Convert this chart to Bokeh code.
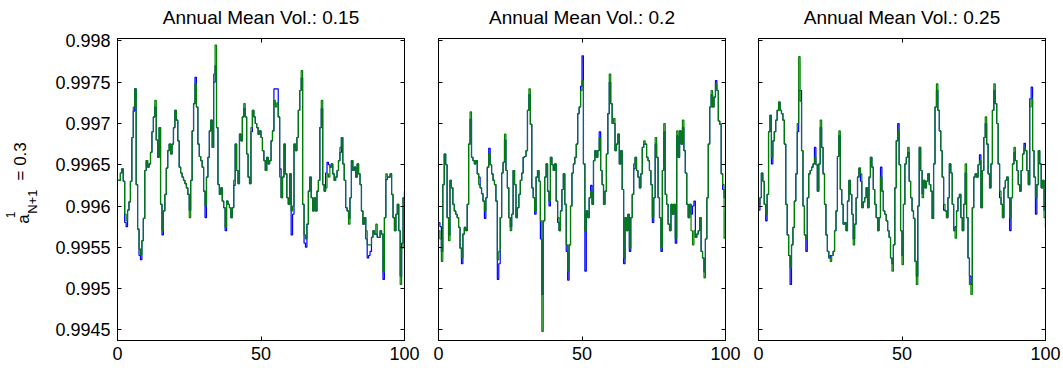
import numpy as np
from bokeh.plotting import figure
from bokeh.layouts import row, column
from bokeh.models import Range1d, LinearAxis, FixedTicker, CustomJSTickFormatter, Label
from bokeh.embed import file_html
from bokeh.resources import INLINE

# ---------------- data (half-unit steps) ----------------
steps = [i / 2 for i in range(201)]
titles = ["Annual Mean Vol.: 0.15", "Annual Mean Vol.: 0.2", "Annual Mean Vol.: 0.25"]
y_ticks = [0.9945, 0.995, 0.9955, 0.996, 0.9965, 0.997, 0.9975, 0.998]
x_ticks = [0, 50, 100]

vol15_green = [
    0.99631, 0.99631, 0.99640, 0.99645, 0.99630, 0.99590, 0.99582, 0.99595, 0.99605, 0.99630,
    0.99683, 0.99720, 0.99742, 0.99626, 0.99572, 0.99548, 0.99541, 0.99558, 0.99585, 0.99643,
    0.99655, 0.99647, 0.99651, 0.99665, 0.99690, 0.99708, 0.99728, 0.99680, 0.99659, 0.99695,
    0.99602, 0.99570, 0.99594, 0.99614, 0.99646, 0.99667, 0.99675, 0.99663, 0.99675, 0.99695,
    0.99716, 0.99704, 0.99679, 0.99647, 0.99640, 0.99635, 0.99631, 0.99627, 0.99622, 0.99614,
    0.99586, 0.99631, 0.99691, 0.99724, 0.99748, 0.99720, 0.99675, 0.99660, 0.99655, 0.99647,
    0.99618, 0.99600, 0.99635, 0.99659, 0.99691, 0.99704, 0.99671, 0.99760, 0.99795, 0.99695,
    0.99626, 0.99614, 0.99622, 0.99606, 0.99598, 0.99574, 0.99606, 0.99602, 0.99598, 0.99586,
    0.99598, 0.99631, 0.99675, 0.99643, 0.99627, 0.99687, 0.99679, 0.99708, 0.99724, 0.99708,
    0.99663, 0.99635, 0.99627, 0.99695, 0.99716, 0.99708, 0.99700, 0.99695, 0.99687, 0.99691,
    0.99683, 0.99667, 0.99655, 0.99643, 0.99659, 0.99651, 0.99655, 0.99679, 0.99691, 0.99728,
    0.99720, 0.99725, 0.99708, 0.99635, 0.99610, 0.99635, 0.99675, 0.99639, 0.99610, 0.99602,
    0.99639, 0.99594, 0.99600, 0.99675, 0.99667, 0.99683, 0.99716, 0.99740, 0.99764, 0.99602,
    0.99565, 0.99560, 0.99578, 0.99618, 0.99635, 0.99610, 0.99594, 0.99610, 0.99594, 0.99618,
    0.99631, 0.99695, 0.99728, 0.99626, 0.99618, 0.99622, 0.99639, 0.99635, 0.99647, 0.99651,
    0.99639, 0.99631, 0.99635, 0.99643, 0.99655, 0.99671, 0.99683, 0.99651, 0.99631, 0.99598,
    0.99594, 0.99578, 0.99610, 0.99655, 0.99643, 0.99647, 0.99635, 0.99651, 0.99639, 0.99626,
    0.99594, 0.99578, 0.99586, 0.99570, 0.99553, 0.99553, 0.99553, 0.99562, 0.99570, 0.99566,
    0.99578, 0.99562, 0.99562, 0.99570, 0.99566, 0.99520, 0.99586, 0.99639, 0.99635, 0.99635,
    0.99639, 0.99614, 0.99586, 0.99570, 0.99590, 0.99602, 0.99570, 0.99505, 0.99549, 0.99610,
    0.99618]
vol15_blue = [
    0.99631, 0.99631, 0.99640, 0.99645, 0.99630, 0.99580, 0.99575, 0.99595, 0.99605, 0.99630,
    0.99683, 0.99715, 0.99742, 0.99626, 0.99572, 0.99540, 0.99535, 0.99558, 0.99585, 0.99643,
    0.99655, 0.99647, 0.99651, 0.99665, 0.99690, 0.99708, 0.99720, 0.99680, 0.99659, 0.99695,
    0.99602, 0.99565, 0.99594, 0.99614, 0.99646, 0.99667, 0.99675, 0.99663, 0.99675, 0.99695,
    0.99716, 0.99704, 0.99679, 0.99647, 0.99640, 0.99635, 0.99631, 0.99627, 0.99622, 0.99614,
    0.99595, 0.99631, 0.99691, 0.99724, 0.99756, 0.99720, 0.99675, 0.99660, 0.99655, 0.99647,
    0.99618, 0.99586, 0.99635, 0.99659, 0.99691, 0.99704, 0.99671, 0.99750, 0.99770, 0.99695,
    0.99626, 0.99614, 0.99622, 0.99606, 0.99598, 0.99570, 0.99606, 0.99602, 0.99598, 0.99586,
    0.99598, 0.99625, 0.99675, 0.99643, 0.99627, 0.99687, 0.99679, 0.99708, 0.99718, 0.99708,
    0.99663, 0.99635, 0.99627, 0.99690, 0.99716, 0.99708, 0.99700, 0.99695, 0.99687, 0.99691,
    0.99683, 0.99667, 0.99655, 0.99643, 0.99659, 0.99651, 0.99655, 0.99679, 0.99691, 0.99742,
    0.99742, 0.99742, 0.99708, 0.99645, 0.99610, 0.99635, 0.99675, 0.99639, 0.99610, 0.99602,
    0.99639, 0.99565, 0.99590, 0.99675, 0.99667, 0.99683, 0.99716, 0.99740, 0.99755, 0.99602,
    0.99555, 0.99550, 0.99578, 0.99618, 0.99635, 0.99610, 0.99594, 0.99610, 0.99594, 0.99618,
    0.99631, 0.99695, 0.99718, 0.99626, 0.99618, 0.99640, 0.99653, 0.99650, 0.99647, 0.99651,
    0.99639, 0.99631, 0.99635, 0.99643, 0.99655, 0.99665, 0.99683, 0.99651, 0.99631, 0.99598,
    0.99594, 0.99585, 0.99610, 0.99655, 0.99643, 0.99647, 0.99635, 0.99651, 0.99639, 0.99626,
    0.99594, 0.99578, 0.99586, 0.99560, 0.99537, 0.99540, 0.99545, 0.99562, 0.99570, 0.99566,
    0.99566, 0.99562, 0.99562, 0.99570, 0.99566, 0.99511, 0.99586, 0.99632, 0.99635, 0.99635,
    0.99639, 0.99614, 0.99586, 0.99570, 0.99590, 0.99602, 0.99570, 0.99515, 0.99555, 0.99610,
    0.99618]

vol20_green = [
    0.99570, 0.99560, 0.99533, 0.99626, 0.99663, 0.99650, 0.99586, 0.99558, 0.99631, 0.99622,
    0.99602, 0.99594, 0.99590, 0.99586, 0.99574, 0.99549, 0.99537, 0.99566, 0.99574, 0.99570,
    0.99602, 0.99675, 0.99714, 0.99659, 0.99655, 0.99651, 0.99655, 0.99639, 0.99626, 0.99622,
    0.99615, 0.99606, 0.99594, 0.99610, 0.99647, 0.99663, 0.99650, 0.99639, 0.99631, 0.99626,
    0.99606, 0.99535, 0.99545, 0.99586, 0.99640, 0.99653, 0.99687, 0.99643, 0.99622, 0.99586,
    0.99570, 0.99590, 0.99643, 0.99626, 0.99586, 0.99598, 0.99614, 0.99631, 0.99640, 0.99659,
    0.99660, 0.99667, 0.99716, 0.99742, 0.99699, 0.99622, 0.99610, 0.99594, 0.99635, 0.99643,
    0.99630, 0.99582, 0.99448, 0.99582, 0.99635, 0.99651, 0.99618, 0.99606, 0.99659, 0.99650,
    0.99643, 0.99651, 0.99606, 0.99586, 0.99570, 0.99594, 0.99620, 0.99639, 0.99602, 0.99553,
    0.99521, 0.99553, 0.99600, 0.99640, 0.99651, 0.99659, 0.99675, 0.99712, 0.99720, 0.99740,
    0.99752, 0.99651, 0.99570, 0.99594, 0.99586, 0.99610, 0.99618, 0.99602, 0.99655, 0.99667,
    0.99659, 0.99667, 0.99683, 0.99643, 0.99626, 0.99602, 0.99618, 0.99663, 0.99712, 0.99760,
    0.99724, 0.99700, 0.99706, 0.99667, 0.99675, 0.99687, 0.99651, 0.99667, 0.99620, 0.99537,
    0.99586, 0.99570, 0.99590, 0.99549, 0.99586, 0.99614, 0.99651, 0.99659, 0.99643, 0.99635,
    0.99622, 0.99639, 0.99671, 0.99679, 0.99675, 0.99659, 0.99655, 0.99643, 0.99626, 0.99586,
    0.99610, 0.99683, 0.99659, 0.99610, 0.99586, 0.99549, 0.99643, 0.99700, 0.99614, 0.99602,
    0.99578, 0.99570, 0.99602, 0.99590, 0.99602, 0.99561, 0.99691, 0.99659, 0.99691, 0.99675,
    0.99704, 0.99667, 0.99640, 0.99602, 0.99586, 0.99602, 0.99570, 0.99553, 0.99570, 0.99562,
    0.99566, 0.99570, 0.99586, 0.99545, 0.99537, 0.99513, 0.99560, 0.99610, 0.99675, 0.99720,
    0.99740, 0.99720, 0.99732, 0.99748, 0.99740, 0.99703, 0.99699, 0.99639, 0.99626, 0.99561,
    0.99594]
vol20_blue = [
    0.99580, 0.99575, 0.99545, 0.99626, 0.99663, 0.99650, 0.99586, 0.99565, 0.99631, 0.99622,
    0.99602, 0.99594, 0.99590, 0.99586, 0.99574, 0.99549, 0.99530, 0.99566, 0.99574, 0.99570,
    0.99602, 0.99675, 0.99705, 0.99659, 0.99655, 0.99651, 0.99655, 0.99639, 0.99635, 0.99622,
    0.99615, 0.99606, 0.99585, 0.99610, 0.99647, 0.99670, 0.99650, 0.99639, 0.99631, 0.99626,
    0.99606, 0.99511, 0.99530, 0.99586, 0.99640, 0.99653, 0.99680, 0.99643, 0.99622, 0.99586,
    0.99575, 0.99590, 0.99643, 0.99626, 0.99586, 0.99598, 0.99614, 0.99631, 0.99640, 0.99659,
    0.99660, 0.99667, 0.99716, 0.99735, 0.99699, 0.99622, 0.99610, 0.99590, 0.99635, 0.99643,
    0.99630, 0.99560, 0.99493, 0.99582, 0.99635, 0.99651, 0.99618, 0.99600, 0.99659, 0.99650,
    0.99643, 0.99651, 0.99606, 0.99580, 0.99570, 0.99594, 0.99620, 0.99639, 0.99602, 0.99545,
    0.99510, 0.99553, 0.99600, 0.99640, 0.99651, 0.99659, 0.99675, 0.99712, 0.99720, 0.99745,
    0.99782, 0.99651, 0.99521, 0.99594, 0.99586, 0.99610, 0.99625, 0.99602, 0.99655, 0.99667,
    0.99659, 0.99667, 0.99690, 0.99643, 0.99626, 0.99602, 0.99618, 0.99663, 0.99712, 0.99750,
    0.99724, 0.99700, 0.99700, 0.99667, 0.99675, 0.99687, 0.99651, 0.99667, 0.99620, 0.99530,
    0.99586, 0.99570, 0.99590, 0.99545, 0.99586, 0.99614, 0.99645, 0.99659, 0.99643, 0.99635,
    0.99622, 0.99639, 0.99671, 0.99675, 0.99675, 0.99659, 0.99655, 0.99643, 0.99626, 0.99580,
    0.99610, 0.99675, 0.99659, 0.99610, 0.99586, 0.99545, 0.99643, 0.99690, 0.99614, 0.99602,
    0.99578, 0.99570, 0.99602, 0.99590, 0.99602, 0.99555, 0.99685, 0.99659, 0.99691, 0.99675,
    0.99695, 0.99667, 0.99640, 0.99602, 0.99586, 0.99602, 0.99590, 0.99600, 0.99606, 0.99562,
    0.99566, 0.99570, 0.99586, 0.99545, 0.99537, 0.99520, 0.99560, 0.99610, 0.99675, 0.99720,
    0.99735, 0.99720, 0.99732, 0.99752, 0.99740, 0.99703, 0.99699, 0.99639, 0.99620, 0.99610,
    0.99600]

vol25_green = [
    0.99602, 0.99610, 0.99640, 0.99630, 0.99602, 0.99590, 0.99614, 0.99690, 0.99710, 0.99659,
    0.99679, 0.99690, 0.99704, 0.99716, 0.99726, 0.99716, 0.99712, 0.99704, 0.99675, 0.99602,
    0.99565, 0.99540, 0.99525, 0.99553, 0.99574, 0.99606, 0.99639, 0.99700, 0.99781, 0.99727,
    0.99667, 0.99600, 0.99565, 0.99560, 0.99610, 0.99639, 0.99643, 0.99647, 0.99651, 0.99659,
    0.99650, 0.99618, 0.99651, 0.99704, 0.99671, 0.99639, 0.99602, 0.99565, 0.99545, 0.99537,
    0.99533, 0.99540, 0.99545, 0.99570, 0.99594, 0.99660, 0.99691, 0.99620, 0.99602, 0.99578,
    0.99580, 0.99570, 0.99606, 0.99631, 0.99614, 0.99590, 0.99553, 0.99578, 0.99610, 0.99635,
    0.99646, 0.99639, 0.99598, 0.99605, 0.99610, 0.99622, 0.99598, 0.99635, 0.99659, 0.99647,
    0.99620, 0.99602, 0.99586, 0.99570, 0.99586, 0.99635, 0.99618, 0.99594, 0.99590, 0.99582,
    0.99570, 0.99562, 0.99537, 0.99521, 0.99553, 0.99622, 0.99679, 0.99691, 0.99650, 0.99570,
    0.99529, 0.99602, 0.99651, 0.99659, 0.99671, 0.99630, 0.99610, 0.99594, 0.99585, 0.99533,
    0.99505, 0.99600, 0.99671, 0.99643, 0.99610, 0.99631, 0.99622, 0.99630, 0.99639, 0.99626,
    0.99618, 0.99585, 0.99651, 0.99720, 0.99748, 0.99716, 0.99691, 0.99667, 0.99635, 0.99602,
    0.99594, 0.99586, 0.99610, 0.99651, 0.99640, 0.99602, 0.99570, 0.99561, 0.99594, 0.99610,
    0.99614, 0.99586, 0.99570, 0.99602, 0.99651, 0.99586, 0.99537, 0.99505, 0.99493, 0.99598,
    0.99635, 0.99639, 0.99635, 0.99650, 0.99655, 0.99598, 0.99643, 0.99683, 0.99708, 0.99675,
    0.99639, 0.99622, 0.99651, 0.99716, 0.99748, 0.99724, 0.99700, 0.99651, 0.99618, 0.99602,
    0.99586, 0.99622, 0.99631, 0.99635, 0.99610, 0.99586, 0.99610, 0.99651, 0.99671, 0.99655,
    0.99643, 0.99626, 0.99618, 0.99643, 0.99663, 0.99671, 0.99667, 0.99643, 0.99626, 0.99720,
    0.99730, 0.99667, 0.99635, 0.99610, 0.99626, 0.99667, 0.99651, 0.99622, 0.99631, 0.99586,
    0.99574]
vol25_blue = [
    0.99595, 0.99610, 0.99640, 0.99630, 0.99602, 0.99582, 0.99614, 0.99690, 0.99710, 0.99651,
    0.99679, 0.99690, 0.99704, 0.99716, 0.99726, 0.99716, 0.99712, 0.99704, 0.99675, 0.99602,
    0.99565, 0.99540, 0.99505, 0.99553, 0.99574, 0.99606, 0.99639, 0.99690, 0.99740, 0.99740,
    0.99667, 0.99600, 0.99565, 0.99545, 0.99610, 0.99639, 0.99643, 0.99647, 0.99651, 0.99671,
    0.99650, 0.99618, 0.99651, 0.99695, 0.99671, 0.99639, 0.99602, 0.99565, 0.99545, 0.99537,
    0.99540, 0.99540, 0.99545, 0.99570, 0.99594, 0.99660, 0.99685, 0.99620, 0.99602, 0.99578,
    0.99580, 0.99570, 0.99606, 0.99631, 0.99614, 0.99590, 0.99560, 0.99578, 0.99610, 0.99635,
    0.99646, 0.99630, 0.99598, 0.99605, 0.99610, 0.99622, 0.99598, 0.99635, 0.99659, 0.99647,
    0.99620, 0.99602, 0.99586, 0.99570, 0.99586, 0.99647, 0.99618, 0.99594, 0.99590, 0.99582,
    0.99570, 0.99562, 0.99537, 0.99530, 0.99553, 0.99622, 0.99679, 0.99700, 0.99650, 0.99570,
    0.99540, 0.99602, 0.99651, 0.99659, 0.99665, 0.99630, 0.99610, 0.99594, 0.99585, 0.99533,
    0.99515, 0.99600, 0.99671, 0.99643, 0.99615, 0.99631, 0.99622, 0.99630, 0.99639, 0.99626,
    0.99618, 0.99585, 0.99651, 0.99720, 0.99740, 0.99716, 0.99691, 0.99667, 0.99635, 0.99595,
    0.99594, 0.99586, 0.99610, 0.99651, 0.99640, 0.99602, 0.99570, 0.99575, 0.99594, 0.99610,
    0.99614, 0.99586, 0.99570, 0.99602, 0.99640, 0.99586, 0.99537, 0.99515, 0.99505, 0.99598,
    0.99635, 0.99639, 0.99635, 0.99650, 0.99662, 0.99598, 0.99643, 0.99683, 0.99700, 0.99675,
    0.99639, 0.99622, 0.99651, 0.99716, 0.99740, 0.99724, 0.99700, 0.99651, 0.99610, 0.99602,
    0.99586, 0.99622, 0.99631, 0.99635, 0.99610, 0.99570, 0.99610, 0.99651, 0.99665, 0.99655,
    0.99643, 0.99626, 0.99618, 0.99643, 0.99663, 0.99676, 0.99667, 0.99643, 0.99626, 0.99730,
    0.99744, 0.99667, 0.99635, 0.99590, 0.99626, 0.99667, 0.99651, 0.99622, 0.99631, 0.99595,
    0.99574]

# ---------------- styling ----------------
FONT = "Liberation Sans"
FRAME_W, FRAME_H = 287, 302
STRIP_H = 30          # band holding the panel titles
TOP, BOTTOM = 8, 26   # panel borders below the title band
PANEL_H = TOP + FRAME_H + BOTTOM
LABEL_W = 50
WIDTHS = [LABEL_W, 117 - LABEL_W + FRAME_W + 16, 18 + FRAME_W + 16, 17 + FRAME_W + 17]
TOTAL_W = sum(WIDTHS)

fmt = CustomJSTickFormatter(code="return String(Number(tick.toFixed(4)));")


def style_axis(ax, show_labels):
    ax.major_tick_in = 4
    ax.major_tick_out = 0
    ax.minor_tick_line_color = None
    ax.axis_line_color = "black"
    ax.major_tick_line_color = "black"
    ax.major_label_text_font = FONT
    if show_labels:
        ax.major_label_text_font_size = "18px"
        ax.major_label_text_color = "black"
    else:
        ax.major_label_text_font_size = "1px"
        ax.major_label_text_color = None
        ax.major_label_standoff = 0


def blank(width, height, y_top):
    f = figure(width=width, height=height, x_range=Range1d(0, width),
               y_range=Range1d(y_top + height, y_top),
               output_backend="svg", toolbar_location=None, x_axis_type=None, y_axis_type=None,
               min_border_left=0, min_border_right=0, min_border_top=0, min_border_bottom=0)
    f.grid.visible = False
    f.outline_line_color = None
    f.border_fill_color = "white"
    f.background_fill_color = "white"
    return f


def make_panel(blue, green, left, right, first):
    p = figure(width=left + FRAME_W + right, height=PANEL_H,
               x_range=Range1d(0, 100), y_range=Range1d(0.99437, 0.99803),
               output_backend="svg", toolbar_location=None,
               min_border_left=left, min_border_right=right,
               min_border_top=TOP, min_border_bottom=BOTTOM)
    p.grid.visible = False
    p.outline_line_color = "black"
    p.outline_line_alpha = 1.0
    p.background_fill_color = "white"
    p.border_fill_color = "white"

    p.xaxis.ticker = FixedTicker(ticks=x_ticks)
    p.yaxis.ticker = FixedTicker(ticks=y_ticks)
    p.yaxis.formatter = fmt
    style_axis(p.xaxis[0], True)
    p.xaxis.major_label_standoff = 6
    style_axis(p.yaxis[0], first)
    if first:
        p.yaxis.major_label_standoff = 7

    ax_r = LinearAxis(ticker=FixedTicker(ticks=y_ticks))
    style_axis(ax_r, False)
    p.add_layout(ax_r, "right")
    ax_t = LinearAxis(ticker=FixedTicker(ticks=x_ticks))
    style_axis(ax_t, False)
    p.add_layout(ax_t, "above")

    p.step(steps, blue, mode="after", line_color="#0000ff", line_width=1.2)
    p.step(steps, green, mode="after", line_color="#008000", line_width=1.2)
    return p


# title band (page-pixel coordinates)
band = blank(TOTAL_W, STRIP_H, 0)
frame_centers = [117 + FRAME_W / 2, 438 + FRAME_W / 2, 758 + FRAME_W / 2]
for t, cx in zip(titles, frame_centers):
    band.add_layout(Label(x=cx, y=16.5, text=t, text_font=FONT, text_font_size="19px",
                          text_align="center", text_baseline="alphabetic", text_color="black"))

# y-axis label strip (page-pixel coordinates)
lab = blank(LABEL_W, PANEL_H, STRIP_H)
common = dict(angle=np.pi / 2, text_font=FONT, text_align="left", text_baseline="alphabetic",
              text_color="black")
lab.add_layout(Label(x=23, y=236, text="a", text_font_size="17px", **common))
lab.add_layout(Label(x=10, y=230, text="1", text_font_size="12px", **common))
lab.add_layout(Label(x=32, y=225, text="N+1", text_font_size="13px", **common))
lab.add_layout(Label(x=20, y=188, text="= 0.3", text_font_size="17px", **common))

p1 = make_panel(vol15_blue, vol15_green, 117 - LABEL_W, 16, True)
p2 = make_panel(vol20_blue, vol20_green, 18, 16, False)
p3 = make_panel(vol25_blue, vol25_green, 17, 17, False)

layout = column(band, row(lab, p1, p2, p3, spacing=0), spacing=0)

with open("out.html", "w") as f:
    f.write(file_html(layout, INLINE))
